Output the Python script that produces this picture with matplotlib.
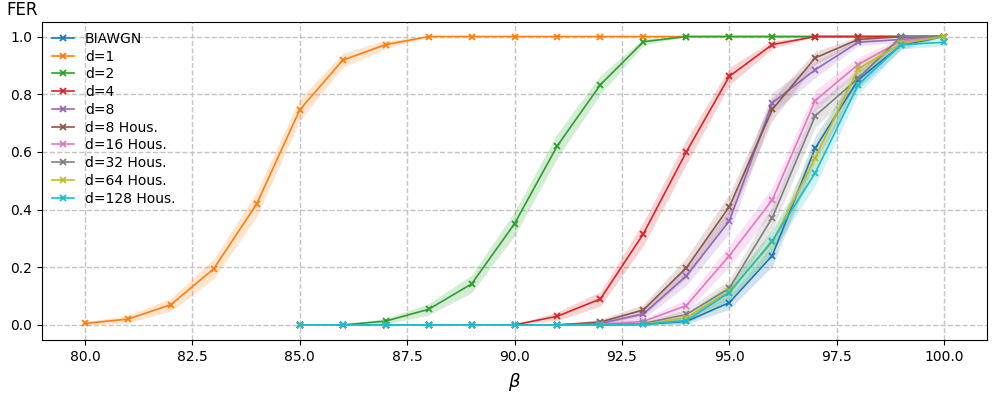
import matplotlib
matplotlib.use('Agg')
import matplotlib.pyplot as plt
import numpy as np

# beta values
beta_d1 = np.arange(80, 101)
beta = np.arange(85, 101)

labels = ['BIAWGN', 'd=1', 'd=2', 'd=4', 'd=8', 'd=8 Hous.',
          'd=16 Hous.', 'd=32 Hous.', 'd=64 Hous.', 'd=128 Hous.']

# frame error rates
fer_biawgn = [0, 0, 0, 0, 0, 0, 0, 0, 0.002, 0.012, 0.077, 0.24, 0.613, 0.85, 0.97, 1.0]
fer_d1 = [0.005, 0.02, 0.07, 0.195, 0.42, 0.746, 0.918, 0.972, 1.0, 1.0, 1.0,
          1.0, 1.0, 1.0, 1.0, 1.0, 1.0, 1.0, 1.0, 1.0, 1.0]
fer_d2 = [0, 0, 0.013, 0.054, 0.142, 0.351, 0.622, 0.833, 0.982, 1.0, 1.0, 1.0, 1.0, 1.0, 1.0, 1.0]
fer_d4 = [0, 0, 0, 0, 0, 0, 0.03, 0.09, 0.316, 0.60, 0.862, 0.972, 1.0, 1.0, 1.0, 1.0]
fer_d8 = [0, 0, 0, 0, 0, 0, 0, 0.005, 0.038, 0.17, 0.36, 0.77, 0.885, 0.98, 0.99, 1.0]
fer_d8h = [0, 0, 0, 0, 0, 0, 0, 0.01, 0.052, 0.198, 0.41, 0.747, 0.926, 0.99, 1.0, 1.0]
fer_d16h = [0, 0, 0, 0, 0, 0, 0, 0.002, 0.012, 0.067, 0.24, 0.433, 0.778, 0.903, 0.985, 1.0]
fer_d32h = [0, 0, 0, 0, 0, 0, 0, 0, 0.005, 0.036, 0.127, 0.372, 0.725, 0.855, 1.0, 1.0]
fer_d64h = [0, 0, 0, 0, 0, 0, 0, 0, 0.002, 0.025, 0.116, 0.286, 0.579, 0.888, 0.976, 1.0]
fer_d128h = [0, 0, 0, 0, 0, 0, 0, 0, 0.002, 0.015, 0.112, 0.292, 0.527, 0.833, 0.972, 0.98]

series = [(beta, fer_biawgn), (beta_d1, fer_d1), (beta, fer_d2), (beta, fer_d4),
          (beta, fer_d8), (beta, fer_d8h), (beta, fer_d16h), (beta, fer_d32h),
          (beta, fer_d64h), (beta, fer_d128h)]

n_frames = 500  # for the confidence band

fig = plt.figure(figsize=(9.94, 4.17), dpi=100)
ax = fig.add_axes([0.0423, 0.185, 0.9507, 0.762])

for i, ((x, y), lab) in enumerate(zip(series, labels)):
    y = np.array(y)
    c = 'C%d' % i
    ci = 1.96 * np.sqrt(y * (1 - y) / n_frames)
    ax.fill_between(x, y - ci, y + ci, color=c, alpha=0.2, linewidth=0)
    ax.plot(x, y, color=c, marker='x', markersize=5, markeredgewidth=1.3,
            linewidth=1.2, label=lab)

ax.grid(True, linestyle='--', color='#c4c4c4', linewidth=1)
ax.set_axisbelow(True)
ax.set_xlabel(r'$\beta$', fontsize=13, labelpad=5)
fig.text(6 / 994, 1 - 19 / 417, 'FER', fontsize=12, va='bottom', ha='left')
ax.legend(loc='upper left', frameon=False, fontsize=10, labelspacing=0.27,
          handlelength=1.6, borderaxespad=0.3)

fig.savefig('out.png', dpi=100)
